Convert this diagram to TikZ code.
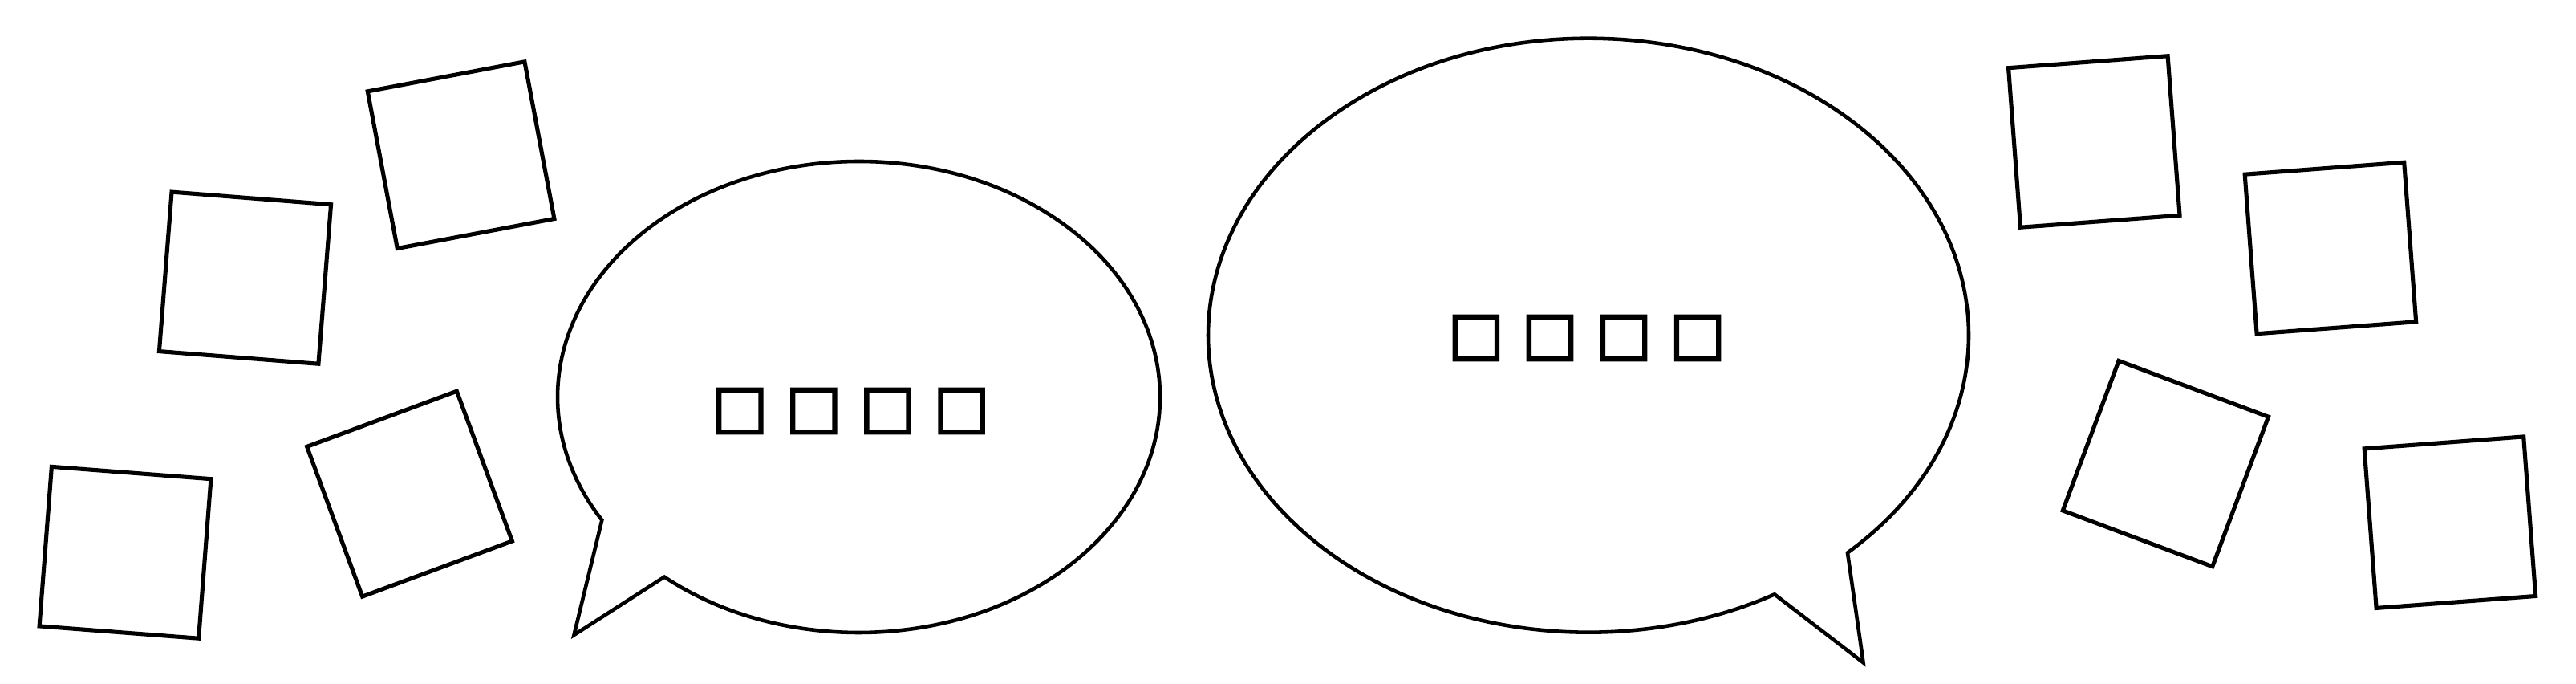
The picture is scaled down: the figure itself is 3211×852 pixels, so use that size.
\documentclass[tikz,border=0pt]{standalone}
\usepackage{fontspec}
\newfontfamily\boxfont[FakeBold=3]{DejaVu Sans}
\usetikzlibrary{calc}
\tikzset{
	card/.style={draw, line width=1.45pt, minimum size=1.99cm, inner sep=0pt},
	bubble/.style={line width=1.3pt, line join=miter},
	talk/.style={font=\boxfont\fontsize{21}{21}\selectfont, inner sep=0pt},
}
\newcommand\charcell[1]{\makebox[0.92cm]{#1}}

\begin{document}
\begin{tikzpicture}[x=0.01cm, y=0.01cm]
			%%%%% START %%%%%
			\useasboundingbox (0, 0) rectangle (3211, 852);
			
			\node[card, rotate=10.7] (sqA) at (574.6, 658.8) {};
			\node[card, rotate=-4.5] (sqB) at (305.5, 505.8) {};
			\node[card, rotate=-4.4] (sqC) at (156, 163.7) {};
			\node[card, rotate=20.3] (sqD) at (510.5, 236.8) {};
			
			\draw[bubble] (1070.5, 357.5) ++(229.8:375.5 and 293.5)
				arc[start angle=229.8, end angle=571.5, x radius=375.5, y radius=293.5]
				-- (715.5, 61) -- cycle;
			\node[talk] (sayL) at (1060.5, 340) {\charcell{□}\charcell{□}\charcell{□}\charcell{□}};
			
			\draw[bubble] (1980, 434.3) ++(312.95:474 and 370)
				arc[start angle=312.95, end angle=659.3, x radius=474, y radius=370]
				-- (2322.6, 26.6) -- cycle;
			\node[talk] (sayR) at (1978, 431) {\charcell{□}\charcell{□}\charcell{□}\charcell{□}};
			
			\node[card, rotate=4.3] (sqE) at (2610.3, 675.5) {};
			\node[card, rotate=4.3] (sqF) at (2904.9, 543) {};
			\node[card, rotate=-20.5] (sqG) at (2699.4, 274.4) {};
			\node[card, rotate=4.3] (sqH) at (3053.9, 201.3) {};
			
			%%%%% END %%%%%
\end{tikzpicture}
\end{document}
